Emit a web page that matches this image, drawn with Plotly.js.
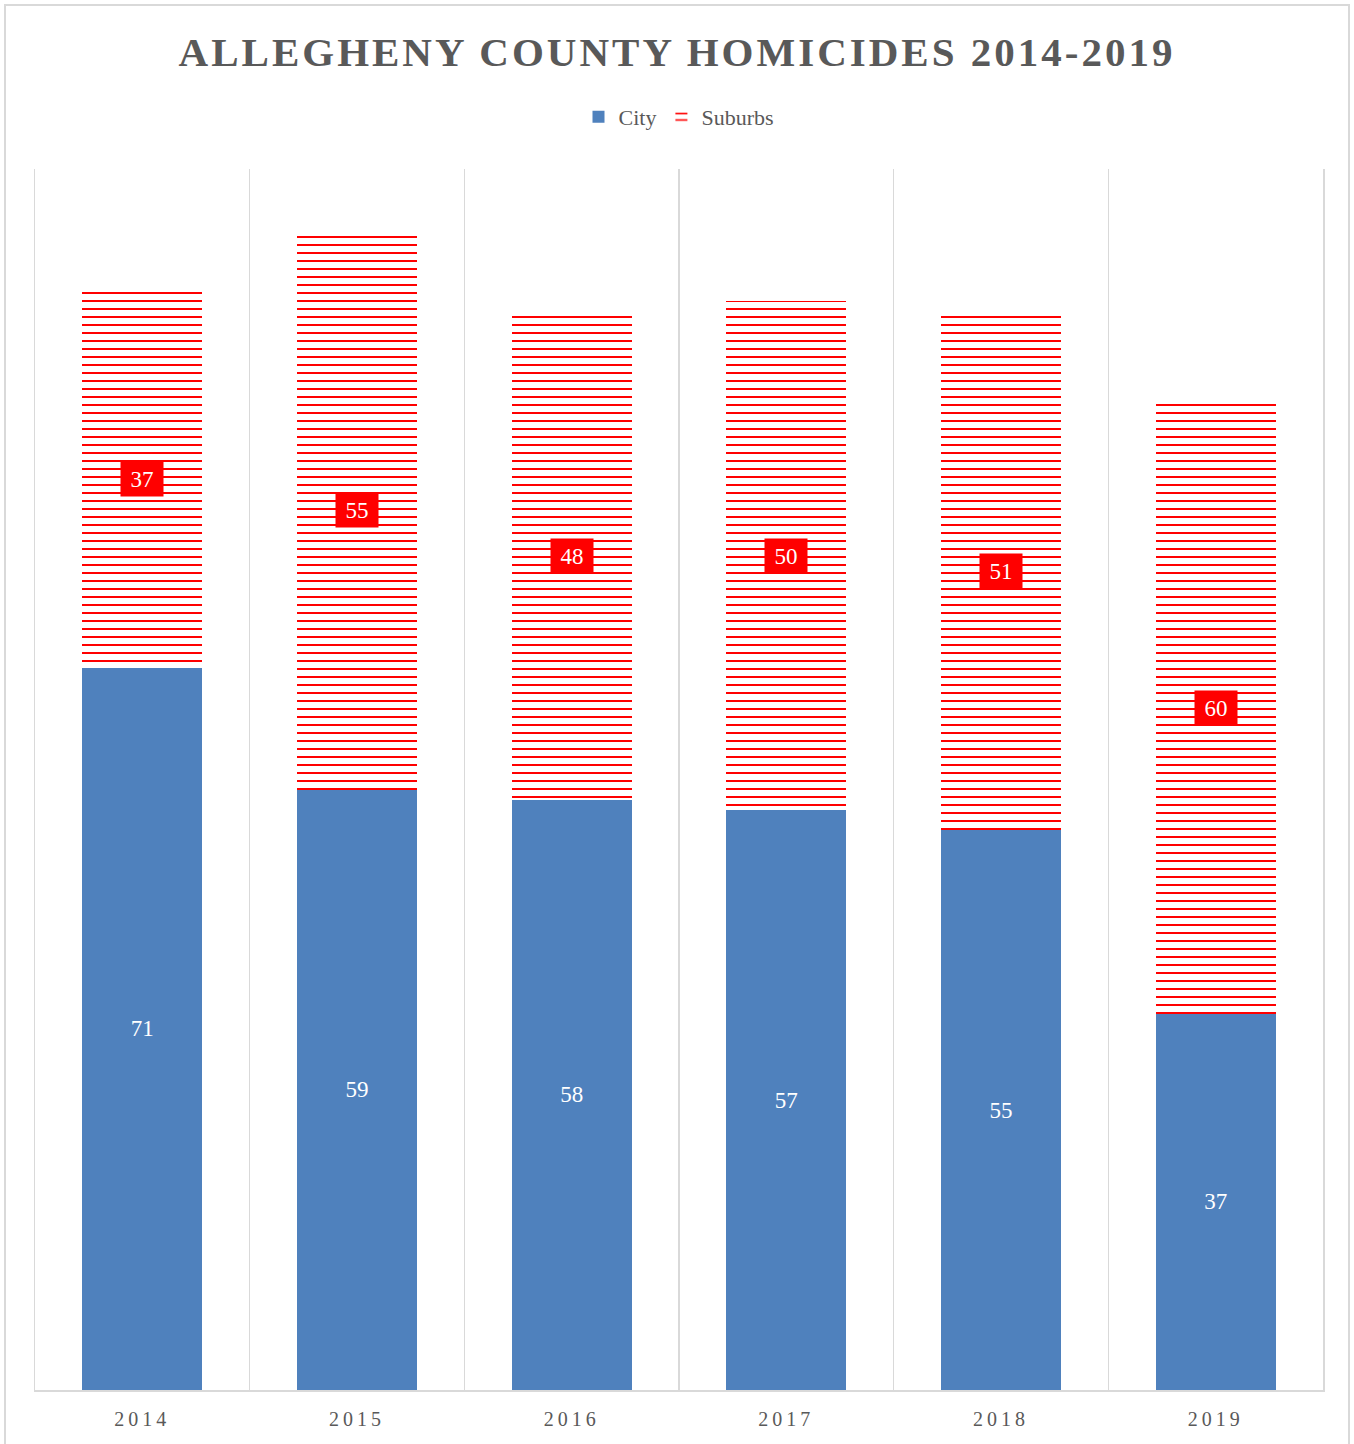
<!DOCTYPE html>
<html>
<head>
<meta charset="utf-8">
<script src="https://cdn.plot.ly/plotly-3.0.1.min.js"></script>
<style>
  html, body { margin: 0; padding: 0; background: #fff; }
  #frame { position: absolute; left: 4px; top: 4px; width: 1346px; height: 1450px; border: 2px solid #d9d9d9; box-sizing: border-box; }
  #chart { position: absolute; left: 0; top: 0; width: 1354px; height: 1444px; }
  .gtitle { letter-spacing: 3px; }
  .xtick text { letter-spacing: 4px; }
</style>
</head>
<body>
<div id="frame"></div>
<div id="chart"></div>
<script>
const years = ["2014", "2015", "2016", "2017", "2018", "2019"];
const city = [71, 59, 58, 57, 55, 37];
const suburbs = [37, 55, 48, 50, 51, 60];

const serif = "Liberation Serif, DejaVu Serif, serif";

const traces = [
  {
    type: "bar", name: "City", x: years, y: city,
    marker: { color: "#4F81BD", line: { width: 0, color: "rgba(0,0,0,0)" } },
    text: city.map(String), textposition: "inside", insidetextanchor: "middle",
    textfont: { family: serif, size: 23, color: "#ffffff" },
    hoverinfo: "skip"
  },
  {
    type: "bar", name: "Suburbs", x: years, y: suburbs,
    marker: {
      color: "#ffffff",
      line: { width: 0, color: "#ffffff" },
      pattern: { shape: "-", size: 8, solidity: 0.25, fgcolor: "#FF0000", bgcolor: "#ffffff", fillmode: "replace" }
    },
    hoverinfo: "skip"
  }
];

const annotations = years.map((yr, i) => ({
  x: i, y: city[i] + suburbs[i] / 2, xref: "x", yref: "y",
  text: String(suburbs[i]), showarrow: false,
  font: { family: serif, size: 23, color: "#ffffff" },
  bgcolor: "#FF0000", borderpad: 4, width: 34, height: 26
}));

const layout = {
  width: 1354, height: 1444,
  margin: { l: 35, r: 31, t: 169, b: 54 },
  paper_bgcolor: "rgba(0,0,0,0)", plot_bgcolor: "#ffffff",
  barmode: "stack", bargap: 0.44,
  title: {
    text: "<b>ALLEGHENY COUNTY HOMICIDES 2014-2019</b>",
    font: { family: serif, size: 41, color: "#595959" },
    x: 0.5, xanchor: "center", y: 1 - 52 / 1444, yanchor: "middle"
  },
  showlegend: true,
  legend: {
    orientation: "h", x: 0.5, xanchor: "center", y: (1390 - 117) / 1221, yanchor: "middle",
    font: { family: serif, size: 22, color: "#595959" }, traceorder: "normal"
  },
  xaxis: {
    type: "category", range: [-0.5, 5.5], tickson: "boundaries", showgrid: true, gridcolor: "#d9d9d9", gridwidth: 1.5,
    showline: true, linecolor: "#d9d9d9", linewidth: 1.5, ticks: "",
    tickfont: { family: serif, size: 20, color: "#595959" }, ticklabelstandoff: 10, tickangle: 0
  },
  yaxis: {
    range: [0, 120], showgrid: false, zeroline: false, showticklabels: false,
    showline: true, mirror: true, linecolor: "#d9d9d9", linewidth: 1.5, ticks: ""
  },
  annotations: annotations
};

Plotly.newPlot("chart", traces, layout, { displayModeBar: false, staticPlot: true });
</script>
</body>
</html>
